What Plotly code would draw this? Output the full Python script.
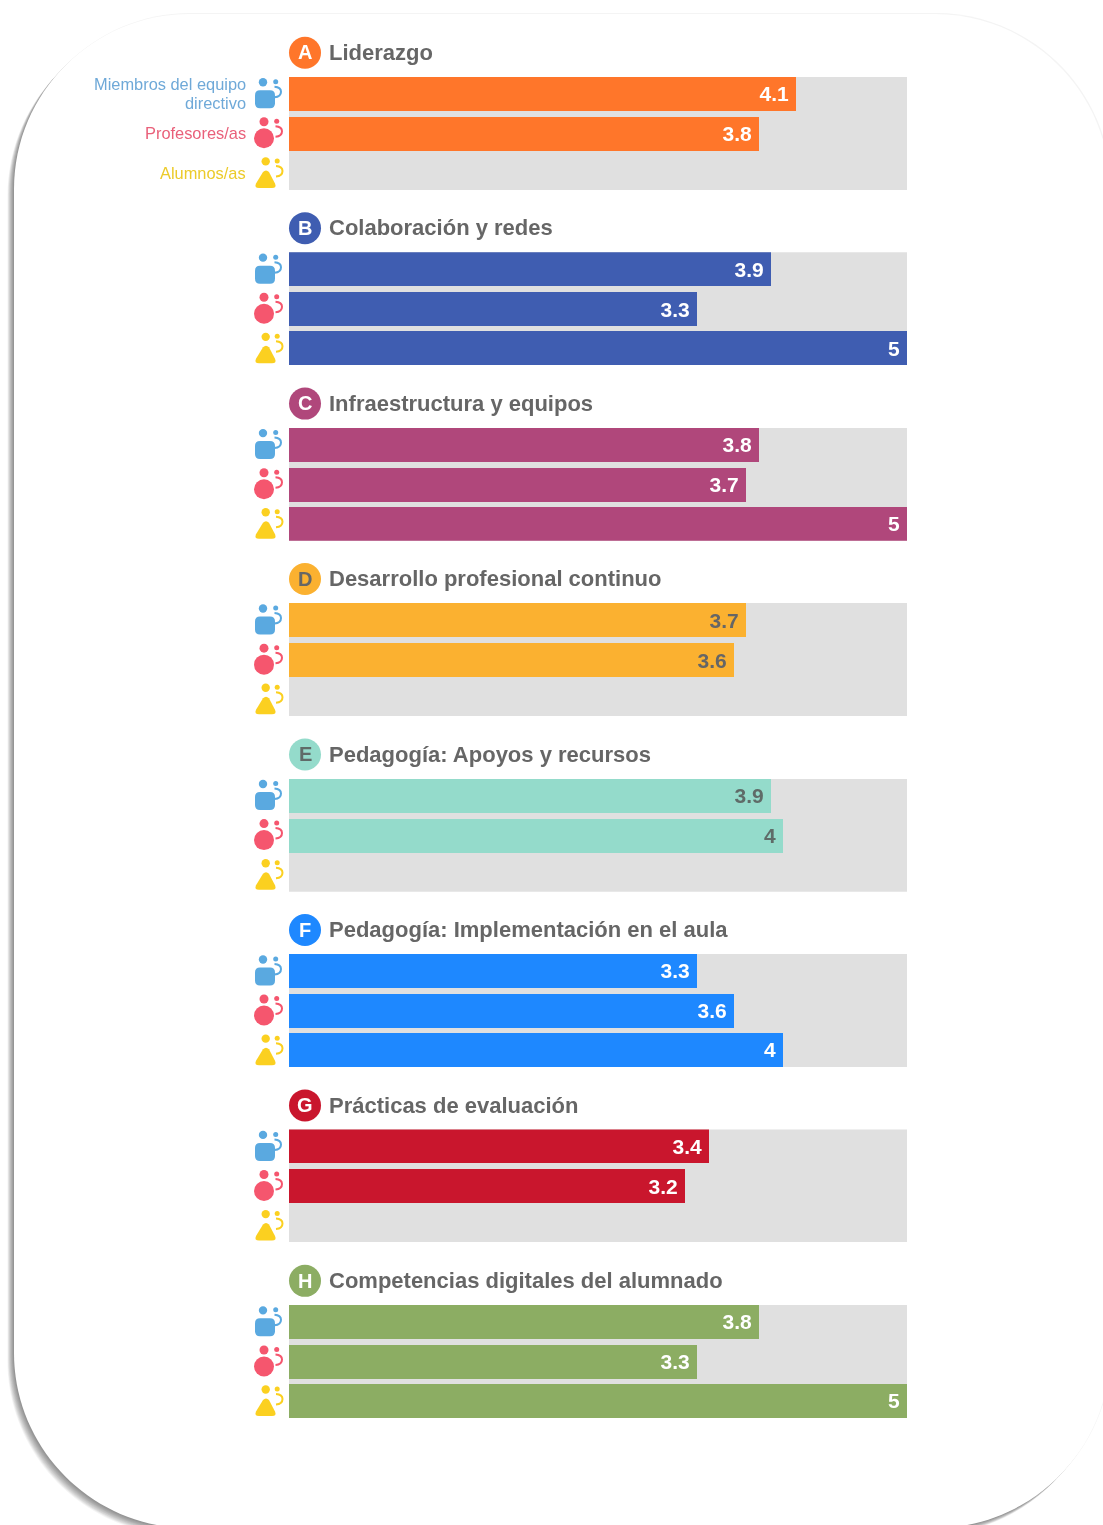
import plotly.graph_objects as go
from plotly.subplots import make_subplots

W, H = 1103, 1525

letters = ["A", "B", "C", "D", "E", "F", "G", "H"]
titles = ["Liderazgo", "Colaboración y redes", "Infraestructura y equipos",
          "Desarrollo profesional continuo", "Pedagogía: Apoyos y recursos",
          "Pedagogía: Implementación en el aula", "Prácticas de evaluación",
          "Competencias digitales del alumnado"]
roles = ["Miembros del equipo<br>directivo", "Profesores/as", "Alumnos/as"]
directivos = [4.1, 3.9, 3.8, 3.7, 3.9, 3.3, 3.4, 3.8]
profesores = [3.8, 3.3, 3.7, 3.6, 4, 3.6, 3.2, 3.3]
alumnos = [None, 5, 5, None, None, 4, None, 5]
scale_max = 5

colors = ["#FF762A", "#3F5DB1", "#B0477B", "#FBB130", "#94DBCB", "#1E88FF", "#C9162D", "#8CAD63"]
label_colors = ["#FFFFFF", "#FFFFFF", "#FFFFFF", "#666666", "#5F6B68", "#FFFFFF", "#FFFFFF", "#FFFFFF"]
role_text_colors = ["#6FA9D8", "#E9607A", "#ECCB2A"]
role_icon_colors = ["#5AA9E0", "#F5566E", "#FBD020"]
track_color = "#E0E0E0"
title_color = "#666666"

FONT = "Liberation Sans"
X0, X1 = 289, 907
TOP0, PERIOD = 76.7, 175.45
PITCH, BAR = 39.6, 34
GROUP_H = 2 * PITCH + BAR

px = lambda x: x / W
py = lambda y: 1 - y / H

fig = make_subplots(rows=8, cols=1, shared_xaxes=True)
shapes, annotations = [], []


def card(dx, dy, fill):
    l, t, r, b, c = 14 + dx, 14 + dy, 1110 + dx, 1528 + dy, 175
    k = c * 0.45
    P = lambda x, y: f"{px(x)},{py(y)}"
    d = (f"M{P(l + c, t)} L{P(r - c, t)} C{P(r - k, t)} {P(r, t + k)} {P(r, t + c)} "
         f"L{P(r, b - c)} C{P(r, b - k)} {P(r - k, b)} {P(r - c, b)} "
         f"L{P(l + c, b)} C{P(l + k, b)} {P(l, b - k)} {P(l, b - c)} "
         f"L{P(l, t + c)} C{P(l, t + k)} {P(l + k, t)} {P(l + c, t)} Z")
    return dict(type="path", path=d, xref="paper", yref="paper", fillcolor=fill,
                line=dict(width=0), layer="below")


shapes.append(card(1, -1, "#F4F4F4"))
for k in range(12, 0, -1):
    shapes.append(card(-0.55 * k, 0.6 * k, "rgba(0,0,0,0.042)"))
shapes.append(card(0, 0, "#FFFFFF"))


def circle(cx, cy, r, color):
    return dict(type="circle", xref="paper", yref="paper", x0=px(cx - r), x1=px(cx + r),
                y0=py(cy + r), y1=py(cy - r), fillcolor=color, line=dict(width=0))


def path(points, color, fill=True, width=0):
    d = ""
    for cmd, *pts in points:
        d += cmd + " ".join(f"{px(x)},{py(y)}" for x, y in pts) + " "
    return dict(type="path", path=d.strip(), xref="paper", yref="paper",
                fillcolor=color if fill else "rgba(0,0,0,0)",
                line=dict(width=width, color=color))


def icon(role, cy):
    c = role_icon_colors[role]
    out = []
    if role == 0:
        out.append(circle(263, cy - 11.5, 4.2, c))
        l, r, t, b, q = 255, 275, cy - 3.5, cy + 14.5, 5
        out.append(path([("M", (l + q, t)), ("L", (r - q, t)), ("Q", (r, t), (r, t + q)),
                         ("L", (r, b - q)), ("Q", (r, b), (r - q, b)), ("L", (l + q, b)),
                         ("Q", (l, b), (l, b - q)), ("L", (l, t + q)), ("Q", (l, t), (l + q, t)), ("Z",)], c))
        ox = 0
    elif role == 1:
        out.append(circle(264, cy - 11.5, 4.5, c))
        out.append(circle(264, cy + 5, 10, c))
        ox = 1
    else:
        out.append(circle(265.7, cy - 11.5, 4.2, c))
        out.append(path([("M", (263, cy - 1)), ("Q", (266, cy - 4), (269, cy - 1)), ("L", (275, cy + 10.5)),
                         ("Q", (277, cy + 15), (272, cy + 15)), ("L", (259, cy + 15)),
                         ("Q", (254, cy + 15), (256, cy + 10.5)), ("Z",)], c))
        ox = 1.5
    out.append(circle(275.7 + ox, cy - 12, 2.5, c))
    out.append(path([("M", (274.5 + ox, cy - 7)), ("Q", (281 + ox, cy - 6.5), (281 + ox, cy - 2)),
                     ("Q", (281 + ox, cy + 3), (274.5 + ox, cy + 3.5))], c, fill=False, width=2))
    return out


for i in range(8):
    row = i + 1
    top = TOP0 + i * PERIOD
    color = colors[i]
    fig.add_trace(go.Bar(x=[scale_max], y=[roles[1]], orientation="h", width=[GROUP_H / PITCH],
                         marker=dict(color=track_color, line=dict(width=0)), hoverinfo="skip",
                         showlegend=False), row=row, col=1)
    vals = [directivos[i], profesores[i], alumnos[i]]
    text = ["" if v is None else f"{v:g}\u2009" for v in vals]
    fig.add_trace(go.Bar(x=vals, y=roles, orientation="h", width=BAR / PITCH, text=text,
                         textposition="inside", insidetextanchor="end", textangle=0,
                         constraintext="none", cliponaxis=False,
                         textfont=dict(family=FONT, size=21, color=label_colors[i], weight="bold"),
                         marker=dict(color=color, line=dict(width=0)), showlegend=False,
                         name=titles[i]), row=row, col=1)
    extra = (GROUP_H / PITCH - 2) / 2
    fig.update_yaxes(type="category", categoryorder="array", categoryarray=roles,
                     range=[2 + extra, -extra], visible=False, fixedrange=True,
                     domain=[py(top + GROUP_H), py(top)], row=row, col=1)
    fig.update_xaxes(range=[0, scale_max], visible=False, fixedrange=True,
                     domain=[px(X0), px(X1)], row=row, col=1)

    shapes.append(circle(305, top - 24, 16, color))
    annotations.append(dict(x=px(305), y=py(top - 24.3), xref="paper", yref="paper", text=f"<b>{letters[i]}</b>",
                            showarrow=False, xanchor="center", yanchor="middle",
                            font=dict(family=FONT, size=20, color=label_colors[i])))
    annotations.append(dict(x=px(329), y=py(top - 24.3), xref="paper", yref="paper", text=f"<b>{titles[i]}</b>",
                            showarrow=False, xanchor="left", yanchor="middle", xshift=-2,
                            font=dict(family=FONT, size=22, color=title_color)))
    for r in range(3):
        shapes.extend(icon(r, top + BAR / 2 + r * PITCH))

label_lines = [(roles[0].split("<br>")[0], 84, 0), (roles[0].split("<br>")[1], 103, 0),
               (roles[1], 132.5, 1), (roles[2], 172.5, 2)]
for txt, y, r in label_lines:
    annotations.append(dict(x=px(246), y=py(y), xref="paper", yref="paper", text=txt,
                            showarrow=False, xanchor="right", yanchor="middle", align="right", xshift=2,
                            font=dict(family=FONT, size=16.4, color=role_text_colors[r])))

fig.update_layout(width=W, height=H, margin=dict(l=0, r=0, t=0, b=0, pad=0, autoexpand=False),
                  paper_bgcolor="#FFFFFF", plot_bgcolor="rgba(0,0,0,0)", barmode="overlay",
                  bargap=0, showlegend=False, shapes=shapes, annotations=annotations,
                  font=dict(family=FONT))

fig.write_html("out.html", config=dict(displayModeBar=False),
               post_script="document.body.style.margin='0';document.documentElement.style.overflow='hidden';"
                           "document.body.style.filter='blur(0.7px)';")
